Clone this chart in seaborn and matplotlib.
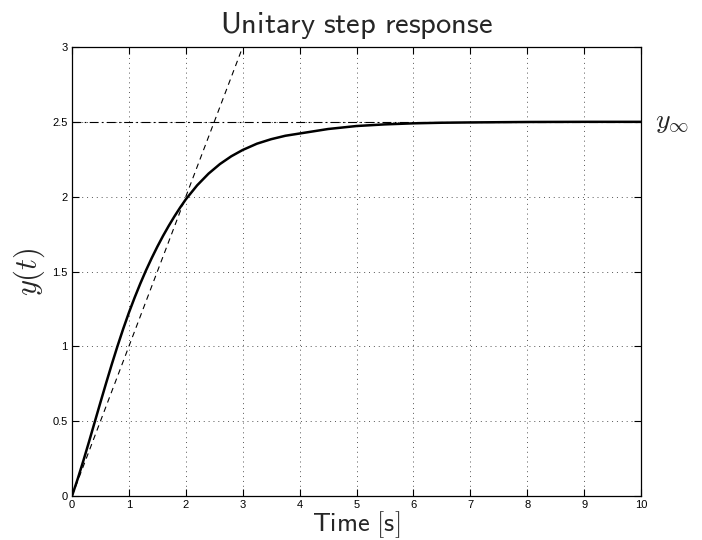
import matplotlib
matplotlib.use("Agg")
import matplotlib.pyplot as plt
import seaborn as sns
import pandas as pd

sns.set_theme(style="white")
plt.rcParams['font.family'] = ['Liberation Sans', 'DejaVu Sans']
plt.rcParams['mathtext.fontset'] = 'cm'

# Step response
t_vals = [0, 0.1, 0.2, 0.3, 0.4, 0.5, 0.6, 0.7, 0.8, 0.9, 1.0,
          1.1, 1.2, 1.3, 1.4, 1.5, 1.6, 1.7, 1.8, 1.9, 2.0,
          2.2, 2.4, 2.6, 2.8, 3.0, 3.25, 3.5, 3.75, 4.0,
          4.5, 5.0, 5.5, 6.0, 6.5, 7.0, 8.0, 9.0, 10.0]
y_vals = [0, 0.114, 0.236, 0.364, 0.495, 0.626, 0.755, 0.881, 1.002, 1.117, 1.225,
          1.325, 1.419, 1.507, 1.589, 1.666, 1.738, 1.805, 1.868, 1.927, 1.982,
          2.076, 2.154, 2.218, 2.270, 2.312, 2.354, 2.384, 2.407, 2.422,
          2.452, 2.472, 2.483, 2.490, 2.494, 2.496, 2.499, 2.5, 2.5]
# Tangent line at origin and final value
tan_t = [0, 3]
tan_y = [0, 3]
y_inf = 2.5
x_ticks = [0, 1, 2, 3, 4, 5, 6, 7, 8, 9, 10]
y_ticks = [0, 0.5, 1, 1.5, 2, 2.5, 3]
y_tick_labels = ['0', '0.5', '1', '1.5', '2', '2.5', '3']

df = pd.DataFrame({'t': t_vals, 'y': y_vals})
df_tan = pd.DataFrame({'t': tan_t, 'y': tan_y})
df_inf = pd.DataFrame({'t': [0, 10], 'y': [y_inf, y_inf]})

fig = plt.figure(figsize=(7.02, 5.4), dpi=100)
ax = fig.add_axes([72/702, 44/540, (641-72)/702, (496-47)/540])

sns.lineplot(data=df_inf, x='t', y='y', ax=ax, color='black', lw=0.8, linestyle=(0, (8, 3, 1.5, 3)))
sns.lineplot(data=df_tan, x='t', y='y', ax=ax, color='black', lw=0.8, linestyle=(0, (5, 4)))
sns.lineplot(data=df, x='t', y='y', ax=ax, color='black', lw=1.8)

ax.set_xlim(0, 10)
ax.set_ylim(0, 3)
ax.set_xticks(x_ticks)
ax.set_yticks(y_ticks)
ax.set_yticklabels(y_tick_labels)
ax.tick_params(direction='in', length=5, width=0.8, labelsize=8, top=True, right=True,
               bottom=True, left=True, colors='black', pad=3)
ax.grid(True, linestyle=(0, (1, 4)), color='#555555', lw=0.7)
for s in ax.spines.values():
    s.set_color('black')
    s.set_linewidth(0.9)

ax.set_title(r'$\mathsf{Unitary\ step\ response}$', fontsize=22, pad=10)
ax.set_xlabel(r'$\mathsf{Time\ [s]}$', fontsize=19, labelpad=-1)
ax.set_ylabel(r'$y(t)$', fontsize=22, labelpad=4)
ax.text(1.024, y_inf, r'$y_\infty$', transform=ax.get_yaxis_transform(), fontsize=20,
        va='center', ha='left')

fig.savefig('out.png', dpi=100)
